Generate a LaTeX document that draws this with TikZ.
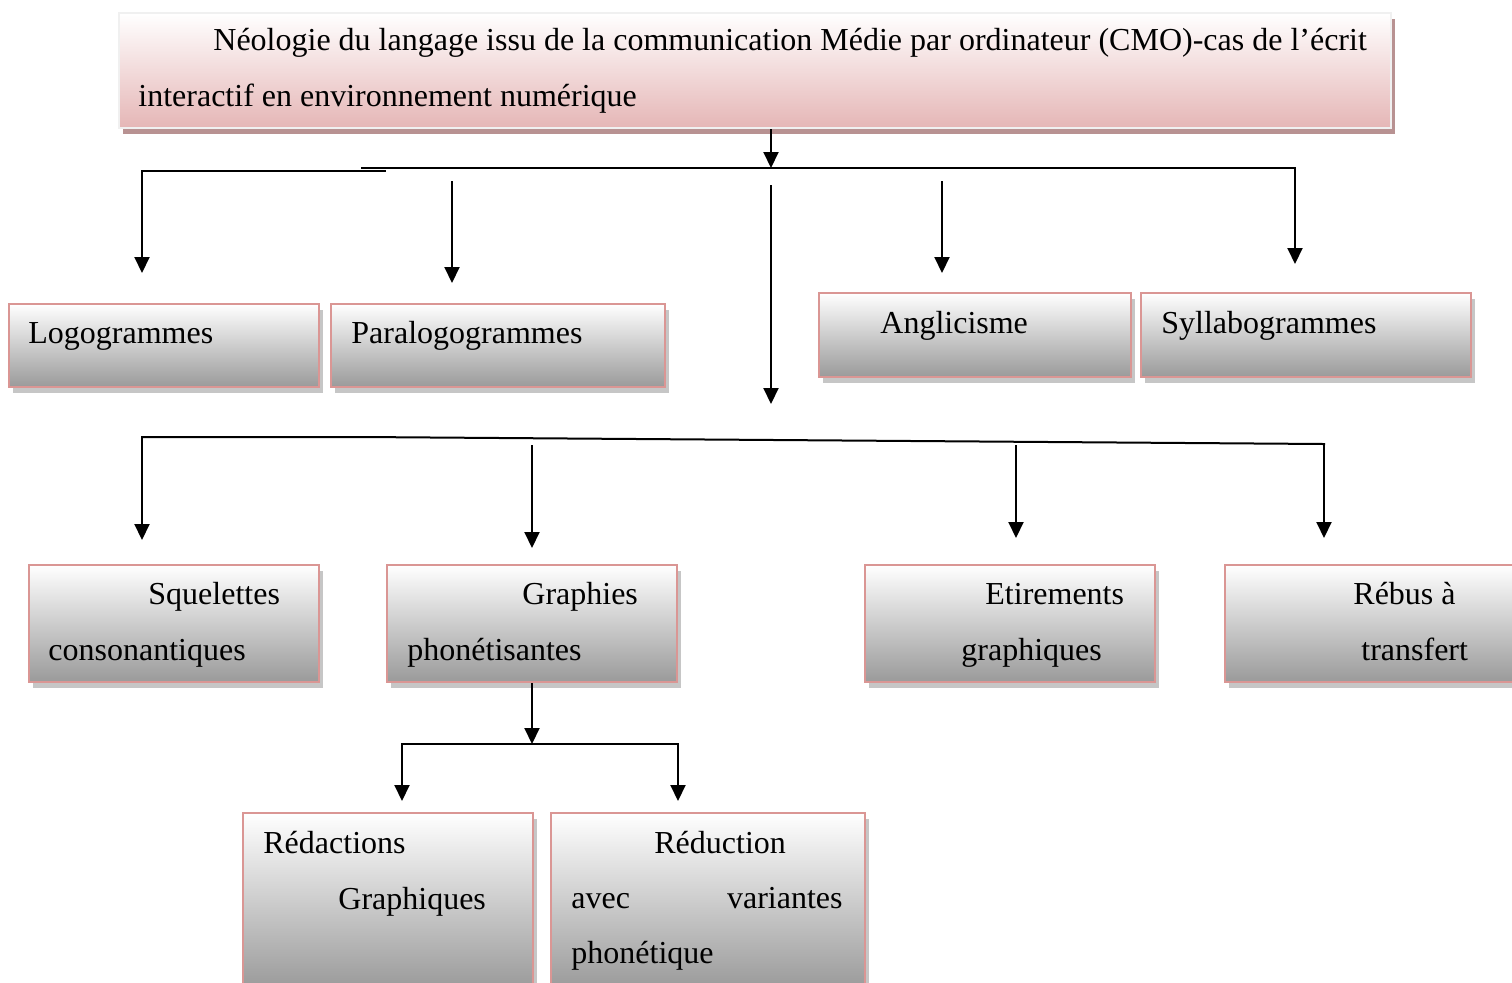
\documentclass[tikz,border=0pt]{standalone}
\usepackage{fontspec}
\setmainfont{Liberation Serif}
\usetikzlibrary{arrows.meta,shadows}
\definecolor{boxpink}{RGB}{218,150,148}
\definecolor{boxgray}{RGB}{154,154,154}
\definecolor{titlepink}{RGB}{229,182,182}
\definecolor{titleedge}{RGB}{240,240,240}
\definecolor{titleshadow}{RGB}{184,146,146}
\definecolor{shadowgray}{RGB}{198,198,198}
\begin{document}
\begin{tikzpicture}[x=0.5pt,y=-0.5pt,
  gbox/.style={draw=boxpink, line width=1pt, top color=white, bottom color=boxgray,
    inner sep=0pt, anchor=north west,
    drop shadow={shadow xshift=2pt, shadow yshift=-3pt, fill=shadowgray, opacity=1}},
  tbox/.style={draw=titleedge, line width=1pt, top color=white, bottom color=titlepink,
    inner sep=0pt, anchor=north west,
    drop shadow={shadow xshift=2pt, shadow yshift=-3pt, fill=titleshadow, opacity=1}},
  txt/.style={anchor=base west, inner sep=0pt, font=\fontsize{16}{18}\selectfont},
  ln/.style={line width=1pt, line cap=rect},
  arr/.style={line width=1pt, -{Triangle[length=8pt,width=7.5pt]}}]
\useasboundingbox (0,0) rectangle (1512,982);
\clip (0,0) rectangle (1512,982);
% boxes
\node[tbox, minimum width=636pt, minimum height=57.5pt] (title) at (118,12) {};
\node[gbox, minimum width=155pt, minimum height=41.5pt] (logo) at (8,303) {};
\node[gbox, minimum width=167pt, minimum height=41.5pt] (para) at (330,303) {};
\node[gbox, minimum width=156pt, minimum height=42pt] (angl) at (818,292) {};
\node[gbox, minimum width=165pt, minimum height=42pt] (syll) at (1140,292) {};
\node[gbox, minimum width=145pt, minimum height=58.5pt] (sque) at (28,564) {};
\node[gbox, minimum width=145pt, minimum height=58.5pt] (graph) at (386,564) {};
\node[gbox, minimum width=145pt, minimum height=58.5pt] (etir) at (864,564) {};
\node[gbox, minimum width=150pt, minimum height=58.5pt] (rebus) at (1224,564) {};
\node[gbox, minimum width=145pt, minimum height=88pt] (redac) at (242,812) {};
\node[gbox, minimum width=157pt, minimum height=88pt] (reduc) at (550,812) {};
% texts
\node[txt] (t1) at (213,50) {Néologie du langage issu de la communication Médie par ordinateur (CMO)-cas de l’écrit};
\node[txt] (t2) at (138,106) {interactif en environnement numérique};
\node[txt] (tlogo) at (28,343) {Logogrammes};
\node[txt] (tpara) at (351,343) {Paralogogrammes};
\node[txt] (tangl) at (880,333) {Anglicisme};
\node[txt] (tsyll) at (1161,333) {Syllabogrammes};
\node[txt] (tsq1) at (148,604) {Squelettes};
\node[txt] (tsq2) at (48,660) {consonantiques};
\node[txt] (tgr1) at (522,604) {Graphies};
\node[txt] (tgr2) at (407,660) {phonétisantes};
\node[txt] (tet1) at (985,604) {Etirements};
\node[txt] (tet2) at (961,660) {graphiques};
\node[txt] (tre1) at (1353,604) {Rébus à};
\node[txt] (tre2) at (1361,660) {transfert};
\node[txt] (trd1) at (263,853) {Rédactions};
\node[txt] (trd2) at (338,909) {Graphiques};
\node[txt] (tru1) at (654,853) {Réduction};
\node[txt] (tru2) at (571,908) {avec};
\node[txt, anchor=base east] (tru3) at (843,908) {variantes};
\node[txt] (tru4) at (571,963) {phonétique};
% connector points
\coordinate (j1) at (771,168);
\coordinate (la) at (142,171);
\coordinate (lb) at (385,171);
\coordinate (ra) at (362,168);
\coordinate (rb) at (1295,168);
\coordinate (logoTip) at (142,273);
\coordinate (paraTop) at (452,181);
\coordinate (paraTip) at (452,283);
\coordinate (midTop) at (771,185);
\coordinate (midTip) at (771,404);
\coordinate (anglTop) at (942,181);
\coordinate (anglTip) at (942,273);
\coordinate (syllTip) at (1295,264);
\coordinate (b2a) at (142,437);
\coordinate (b2m) at (363,437);
\coordinate (b2b) at (1324,444);
\coordinate (squeTip) at (142,540);
\coordinate (graphTop) at (532,445);
\coordinate (graphTip) at (532,548);
\coordinate (etirTop) at (1016,445);
\coordinate (etirTip) at (1016,538);
\coordinate (rebusTip) at (1324,538);
\coordinate (j3) at (532,744);
\coordinate (b3a) at (402,744);
\coordinate (b3b) at (678,744);
\coordinate (redacTip) at (402,801);
\coordinate (reducTip) at (678,801);
% connectors
\draw[arr] (title.south -| j1) -- (j1);
\draw[ln] (la) -- (lb);
\draw[ln] (ra) -- (rb);
\draw[arr] (la) -- (logoTip);
\draw[arr] (paraTop) -- (paraTip);
\draw[arr] (midTop) -- (midTip);
\draw[arr] (anglTop) -- (anglTip);
\draw[arr] (rb) -- (syllTip);
\draw[ln] (b2a) -- (b2m) -- (b2b);
\draw[arr] (b2a) -- (squeTip);
\draw[arr] (graphTop) -- (graphTip);
\draw[arr] (etirTop) -- (etirTip);
\draw[arr] (b2b) -- (rebusTip);
\draw[arr] (graph.south -| j3) -- (j3);
\draw[ln] (b3a) -- (b3b);
\draw[arr] (b3a) -- (redacTip);
\draw[arr] (b3b) -- (reducTip);
\end{tikzpicture}
\end{document}
